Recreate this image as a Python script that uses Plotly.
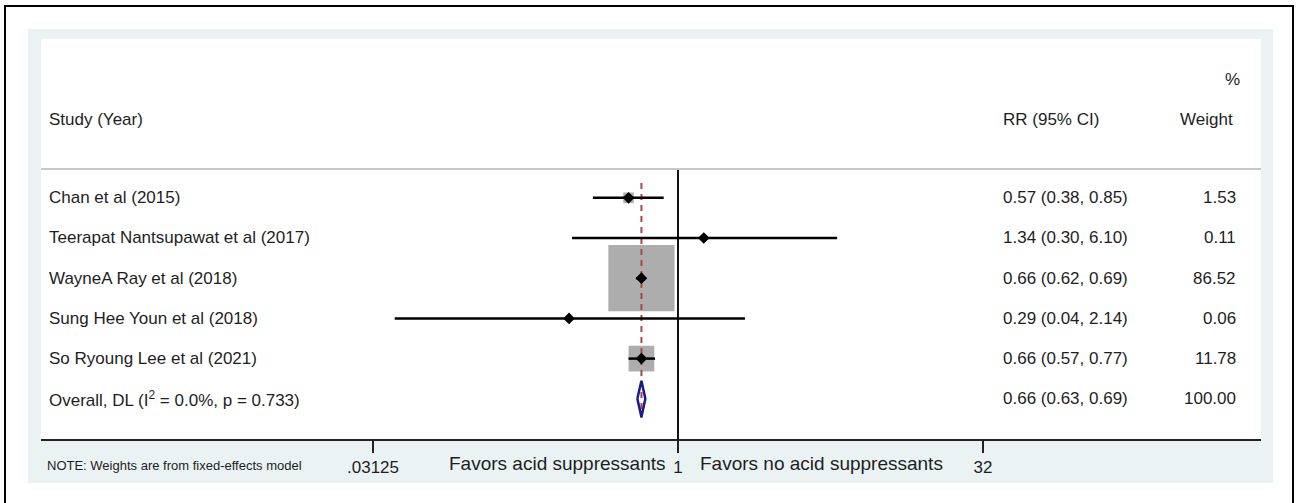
import math
import plotly.graph_objects as go

# ---- study data ----
studies = [
    "Chan et al (2015)",
    "Teerapat Nantsupawat et al (2017)",
    "WayneA Ray et al (2018)",
    "Sung Hee Youn et al (2018)",
    "So Ryoung Lee et al (2021)",
]
rr = [0.57, 1.34, 0.66, 0.29, 0.66]
ci_lo = [0.38, 0.30, 0.62, 0.04, 0.57]
ci_hi = [0.85, 6.10, 0.69, 2.14, 0.77]
weights = [1.53, 0.11, 86.52, 0.06, 11.78]

overall_label = "Overall, DL (I<sup>2</sup> = 0.0%, p = 0.733)"
overall_rr = 0.66
overall_lo = 0.63
overall_hi = 0.69
overall_weight = 100.00

tick_vals = [0.03125, 1, 32]
tick_text = [".03125", "1", "32"]
null_value = 1

# ---- layout geometry ----
W, H = 1296, 503
ML, MR, MT, MB = 41, 35, 39, 64
PW, PH = W - ML - MR, H - MT - MB


def px_x(px):
    return (px - ML) / PW


def px_y(py):
    return (H - MB - py) / PH


TEXT = "#1e1e1e"
FONT = "Liberation Sans, Arial, sans-serif"
BOX = "#adadad"
NAVY = "#1a1a8c"
RED = "#b04444"
PANEL = "#eaf2f3"

rows = list(range(len(studies)))
overall_row = len(studies)
sep_row = -0.716
head_row = -1.96
pct_row = -2.955

fig = go.Figure()

# weight boxes (area proportional to weight)
box_sizes = [6.9 * w ** 0.5 + 2 for w in weights]
fig.add_trace(go.Scatter(
    x=rr, y=rows, mode="markers",
    marker=dict(symbol="square", size=box_sizes, color=BOX, opacity=1, line=dict(width=0)),
    hoverinfo="skip", showlegend=False,
))

# overall estimate reference line
fig.add_trace(go.Scatter(
    x=[overall_rr, overall_rr], y=[-0.37, overall_row + 0.48], mode="lines",
    line=dict(color=RED, width=2, dash="6px,5px"),
    hoverinfo="skip", showlegend=False,
))

# null line at RR = 1
fig.add_trace(go.Scatter(
    x=[null_value, null_value], y=[sep_row, 6.0], mode="lines",
    line=dict(color="#111111", width=2),
    hoverinfo="skip", showlegend=False,
))

# confidence intervals
cx, cy = [], []
for lo, hi, r in zip(ci_lo, ci_hi, rows):
    cx += [lo, hi, None]
    cy += [r, r, None]
fig.add_trace(go.Scatter(
    x=cx, y=cy, mode="lines", line=dict(color="#000000", width=2.5),
    hoverinfo="skip", showlegend=False,
))

# point estimates
fig.add_trace(go.Scatter(
    x=rr, y=rows, mode="markers",
    marker=dict(symbol="diamond", size=9, color="#000000", line=dict(width=0)),
    hoverinfo="skip", showlegend=False,
))

# pooled estimate diamond
hh = 0.45
fig.add_trace(go.Scatter(
    x=[overall_lo, overall_rr, overall_hi, overall_rr, overall_lo],
    y=[overall_row, overall_row - hh, overall_row, overall_row + hh, overall_row],
    mode="lines", line=dict(color=NAVY, width=2.5),
    hoverinfo="skip", showlegend=False,
))

# ---- text columns ----
ann = []
name_x = px_x(47)
rr_x = px_x(1001)
wt_x = px_x(1238)


def txt(x, y, s, anchor, size=17, yref="y", xref="paper", xshift=0):
    ann.append(dict(x=x, y=y, xref=xref, yref=yref, text=s, showarrow=False,
                    xanchor=anchor, yanchor="middle", xshift=xshift,
                    font=dict(family=FONT, size=size, color=TEXT)))


txt(name_x, head_row, "Study (Year)", "left")
txt(rr_x, head_row, "RR (95% CI)", "left")
txt(px_x(1235), head_row, "Weight", "right")
txt(px_x(1242), pct_row, "%", "right")

for r, s, v, lo, hi, w in zip(rows, studies, rr, ci_lo, ci_hi, weights):
    txt(name_x, r, s, "left")
    txt(rr_x, r, f"{v:.2f} ({lo:.2f}, {hi:.2f})", "left")
    txt(wt_x, r, f"{w:.2f}", "right")

txt(name_x, overall_row, overall_label, "left")
txt(rr_x, overall_row, f"{overall_rr:.2f} ({overall_lo:.2f}, {overall_hi:.2f})", "left")
txt(wt_x, overall_row, f"{overall_weight:.2f}", "right")

# footer texts (annotation x on a log axis is given in log10 units)
txt(px_x(45), px_y(466), "NOTE: Weights are from fixed-effects model", "left", size=13, yref="paper")
txt(math.log10(null_value), px_y(463), "Favors acid suppressants", "right", size=19,
    yref="paper", xref="x", xshift=-10)
txt(math.log10(null_value), px_y(463), "Favors no acid suppressants", "left", size=19,
    yref="paper", xref="x", xshift=20)

# ---- background panels, frame, header rule ----
shapes = [
    dict(type="rect", xref="paper", yref="paper", layer="below",
         x0=px_x(28), x1=px_x(1273), y0=px_y(483), y1=px_y(29),
         fillcolor=PANEL, line=dict(width=0)),
    dict(type="rect", xref="paper", yref="paper", layer="below",
         x0=0, x1=1, y0=0, y1=1, fillcolor="white", line=dict(width=0)),
    dict(type="line", xref="paper", yref="y", x0=0, x1=1, y0=sep_row, y1=sep_row,
         line=dict(color="#c8c8c8", width=2)),
    dict(type="rect", xref="paper", yref="paper",
         x0=px_x(5), x1=px_x(1293), y0=px_y(515), y1=px_y(6),
         fillcolor="rgba(0,0,0,0)", line=dict(color="#000000", width=2)),
]

# log-scale x range: 61 px per doubling, RR = 1 at x = 678 px
x_left = (ML - 678) / 61.0 * math.log10(2)
x_right = (ML + PW - 678) / 61.0 * math.log10(2)

fig.update_layout(
    width=W, height=H,
    margin=dict(l=ML, r=MR, t=MT, b=MB),
    paper_bgcolor="white", plot_bgcolor="white",
    showlegend=False,
    annotations=ann, shapes=shapes,
    xaxis=dict(type="log", range=[x_left, x_right], tickvals=tick_vals, ticktext=tick_text,
               ticks="outside", ticklen=12, tickwidth=2, tickcolor="#222222",
               showline=True, linecolor="#222222", linewidth=2,
               showgrid=False, zeroline=False, fixedrange=True,
               tickfont=dict(family=FONT, size=17, color=TEXT)),
    yaxis=dict(range=[6.0, -3.95], visible=False, showgrid=False, zeroline=False,
               fixedrange=True),
    font=dict(family=FONT, color=TEXT),
)

fig.write_html("out.html")
